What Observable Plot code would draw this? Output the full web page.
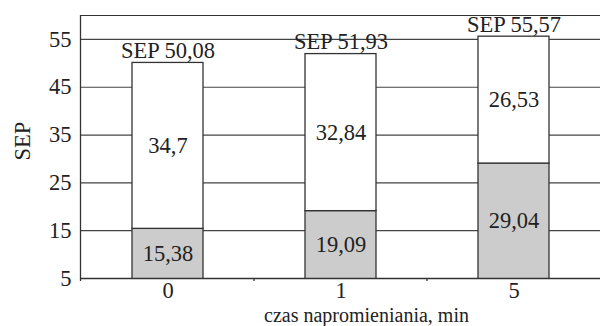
<!DOCTYPE html>
<html><head><meta charset="utf-8">
<script src="https://cdn.jsdelivr.net/npm/d3@7"></script>
<script src="https://cdn.jsdelivr.net/npm/@observablehq/plot@0.6"></script>
<style>body{margin:0;background:#fff} svg{display:block}</style>
</head><body><div id="chart"></div>
<script>
const categories = ["0", "1", "5"];
const bottomValues = [15.38, 19.09, 29.04];
const topValues = [34.7, 32.84, 26.53];
const totals = [50.08, 51.93, 55.57];
const yTicks = [5, 15, 25, 35, 45, 55];
const yDomain = [5, 60];
const yLabel = "SEP";
const xLabel = "czas napromieniania, min";
const totalPrefix = "SEP ";

const fmt = v => String(v).replace(".", ",");

const segs = categories.flatMap((c, i) => [
  {cat: c, seg: "dolna", y1: 0, y2: bottomValues[i], value: bottomValues[i], mid: (yDomain[0] + bottomValues[i]) / 2},
  {cat: c, seg: "górna", y1: bottomValues[i], y2: bottomValues[i] + topValues[i], value: topValues[i], mid: bottomValues[i] + topValues[i] / 2}
]);
const totalRows = categories.map((c, i) => ({cat: c, total: totals[i]}));

const FS = 22.5;
const INK = "#222";
const LINE = "#333";

const plot = Plot.plot({
  width: 600,
  height: 326,
  marginLeft: 80,
  marginRight: 0,
  marginTop: 15,
  marginBottom: 48,
  style: {fontFamily: "Liberation Serif, Times New Roman, serif", fontSize: FS + "px", color: INK, background: "white"},
  x: {type: "band", domain: categories, paddingInner: 0.59, paddingOuter: 0.295, label: null},
  y: {domain: yDomain, ticks: yTicks, label: null},
  color: {domain: ["dolna", "górna"], range: ["#cccccc", "#ffffff"]},
  marks: [
    Plot.ruleY(yTicks.slice(1), {stroke: "#444", strokeWidth: 1.2}),
    Plot.barY(segs, {x: "cat", y1: "y1", y2: "y2", fill: "seg", stroke: LINE, strokeWidth: 1.3, clip: true}),
    Plot.ruleY([yDomain[1]], {stroke: LINE, strokeWidth: 1.2}),
    Plot.ruleY([yDomain[0]], {stroke: LINE, strokeWidth: 1.3}),
    Plot.axisY({ticks: yTicks, tickSize: 0, tickPadding: 9, fontSize: FS, fill: INK, label: null}),
    Plot.axisX({tickSize: 0, tickPadding: 4, fontSize: FS, fill: INK, label: null}),
    Plot.text(segs, {x: "cat", y: "mid", text: d => fmt(d.value), fontSize: FS, fill: INK}),
    Plot.text(totalRows, {x: "cat", y: "total", text: d => totalPrefix + fmt(d.total), lineAnchor: "bottom", dy: -5, fontSize: FS, fill: INK}),
    Plot.text([yLabel], {frameAnchor: "left", textAnchor: "middle", lineAnchor: "middle", rotate: -90, dx: -58, dy: -6, fontSize: FS, fill: INK}),
    Plot.text([xLabel], {frameAnchor: "bottom", textAnchor: "middle", lineAnchor: "bottom", dy: 43, dx: 26, fontSize: 20, fill: INK})
  ]
});

document.getElementById("chart").appendChild(plot);

// small decorations drawn from the plot's own scales
const xs = plot.scale("x"), ys = plot.scale("y");
const svg = d3.select(plot);
const yBottom = Math.max(...ys.range), yTop = Math.min(...ys.range);
const xLeft = Math.min(...xs.range);
const step = xs.step ?? (xs.range[1] - xs.range[0]) / (categories.length - 0.59 + 2 * 0.295);
const bw = xs.bandwidth ?? step * (1 - 0.59);
const g = svg.append("g").attr("stroke", LINE).attr("stroke-width", 1.3);
g.append("line").attr("x1", xLeft + 0.5).attr("x2", xLeft + 0.5).attr("y1", yTop).attr("y2", yBottom + 3);
categories.slice(0, -1).forEach(c => {
  const bx = xs.apply(c) + bw + (step - bw) / 2;
  g.append("line").attr("x1", bx).attr("x2", bx).attr("y1", yBottom).attr("y2", yBottom + 3);
});
</script>
</body></html>
